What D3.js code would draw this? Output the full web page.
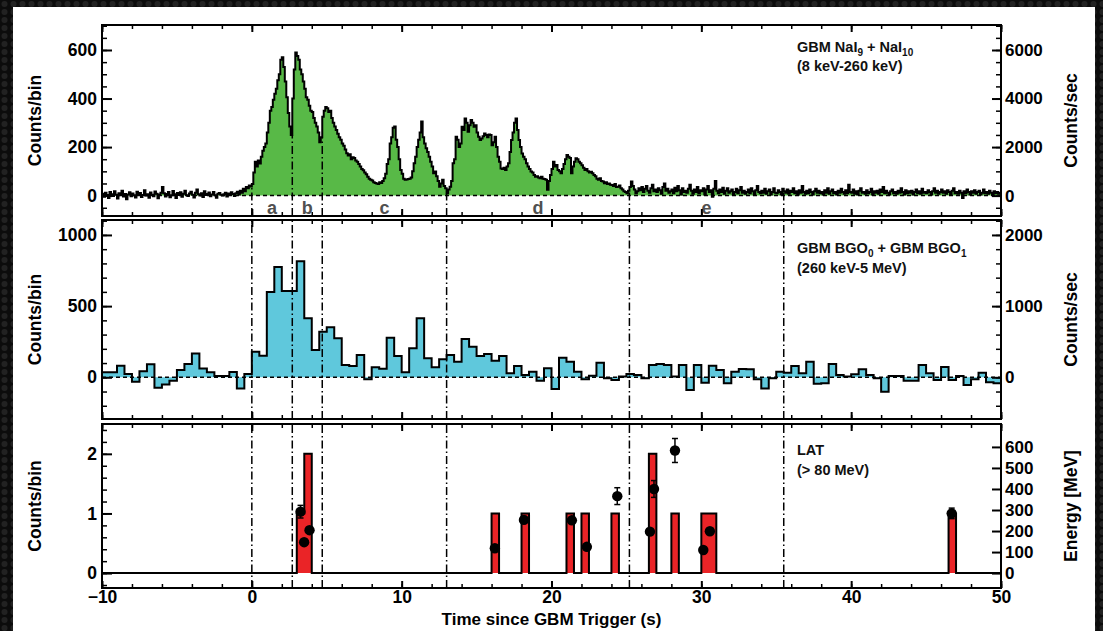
<!DOCTYPE html>
<html><head><meta charset="utf-8">
<script src="https://cdn.jsdelivr.net/npm/d3@7"></script>
<style>
html,body{margin:0;padding:0;background:#121212;}
svg{display:block;}
text{font-family:"Liberation Sans", Arial, Helvetica, sans-serif;font-weight:bold;}
</style></head><body>
<svg id="chart" width="1103" height="631"></svg>
<script>
// ---------------- DATA ----------------
const naiStart = -10, naiBinWidth = 0.1;
const naiCounts = [
 8,-5,12,3,-10,15,6,-2,18,4,
 -12,10,2,20,-4,7,-15,5,14,-3,
 9,1,-8,16,5,11,-6,3,22,0,
 6,-9,13,4,-3,17,8,-11,5,12,
 35,10,-4,7,15,-7,2,19,6,-10,
 11,3,14,-5,8,20,1,-2,9,16,
 4,-8,12,25,6,0,10,-6,18,3,
 7,13,-3,5,15,2,-9,8,11,4,
 0,6,12,-4,9,3,14,7,-2,10,
 16,5,20,12,28,18,35,30,42,38,
 48,95,140,120,145,132,160,185,200,215,
 260,300,350,365,395,420,440,475,500,560,
 570,530,470,405,340,285,250,400,520,590,
 575,560,520,500,470,440,405,395,370,350,
 345,320,300,285,260,220,240,325,350,365,
 360,345,350,320,300,285,270,255,240,230,
 215,205,190,175,165,170,150,158,155,145,
 140,130,120,110,105,95,88,78,70,65,
 62,55,52,50,48,55,52,60,72,90,
 130,150,215,240,280,285,230,200,150,106,
 90,70,65,66,68,70,75,100,133,160,
 200,230,260,305,240,215,195,180,160,140,
 120,92,99,80,60,37,50,65,40,30,
 10,25,37,60,133,150,243,230,200,215,
 284,270,318,300,263,290,312,300,284,290,
 260,243,229,235,245,256,250,240,252,250,
 208,220,243,200,160,140,112,110,115,106,
 120,133,180,229,260,300,318,270,229,200,
 174,160,150,133,120,110,99,95,85,78,
 80,75,72,78,70,68,65,24,60,85,
 110,140,120,126,106,100,92,110,130,150,
 167,160,155,92,120,140,154,150,140,133,
 125,115,106,110,100,95,98,92,85,80,
 70,65,72,60,58,51,55,48,50,45,
 44,40,48,35,37,42,30,25,18,15,
 10,20,35,58,40,25,10,18,30,22,
 35,15,28,40,20,12,30,45,18,25,
 15,30,22,8,35,50,20,28,12,18,
 25,10,32,18,40,22,5,30,15,20,
 12,28,45,20,8,25,15,35,10,22,
 18,30,5,25,40,15,22,-5,28,60,
 20,10,25,15,32,8,20,30,12,18,
 25,5,15,28,10,22,35,12,20,8,
 15,25,10,30,18,5,22,40,15,10,
 20,12,28,8,18,25,5,15,30,12,
 10,22,15,5,28,18,12,25,8,20,
 15,30,10,18,5,22,12,40,15,8,
 20,10,25,15,5,18,28,12,20,10,
 15,5,22,12,30,8,18,25,10,15,
 5,20,12,28,15,8,22,10,45,15,
 12,25,8,18,5,20,30,12,15,8,
 22,10,15,28,5,18,12,20,8,25,
 15,35,10,20,12,5,18,25,10,15,
 8,20,12,30,15,5,22,10,18,12,
 20,5,15,25,10,18,8,28,12,15,
 10,22,15,5,18,30,12,20,8,15,
 25,12,18,8,22,15,5,20,30,10,
 15,8,20,12,-10,18,10,25,15,5,
 18,12,22,8,15,20,5,12,25,10,
 15,8,20,12,5,18,10,15,8,12
];
const bgoStart = -10, bgoBinWidth = 0.5;
const bgoCounts = [
 35,35,81,23,-31,42,91,-73,-50,-24,51,93,168,61,35,9,9,37,-78,23,
 180,152,600,775,607,607,816,414,192,320,351,274,86,79,156,-14,71,60,278,150,
 35,204,414,133,70,126,156,110,269,215,150,164,117,150,28,79,16,39,-24,63,
 -82,138,110,39,-14,11,103,-7,-19,5,23,16,-7,86,93,86,5,86,-89,86,
 -38,81,51,-42,39,58,56,-14,-78,-7,39,32,79,28,110,-45,-42,93,16,5,
 21,56,16,-7,-101,9,9,-24,-24,86,28,-19,72,-19,9,-54,-14,32,-35,-42
];
const latBinWidth = 0.5;
const latBinStarts = [3.0, 3.5, 16.0, 18.0, 21.0, 22.0, 24.0, 26.5, 28.0, 30.0, 30.5, 46.5];
const latCounts    = [1,   2,   1,    1,    1,    1,    1,    2,    1,    1,    1,    1];
const photonTimes    = [3.25, 3.49, 3.85, 16.22, 18.16, 21.36, 22.36, 24.39, 26.57, 26.84, 28.24, 30.13, 30.57, 46.71];
const photonEnergies = [292, 147, 204, 118, 253, 251, 125, 366, 197, 400, 583, 110, 199, 284];
const photonErrors   = [30, 10, 14, 8, 16, 16, 9, 40, 13, 40, 57, 8, 14, 25];
const intervalBounds = [0, 2.7, 4.7, 13.0, 25.2, 35.5];
const intervalLabels = ["a", "b", "c", "d", "e"];
const xTickValues = [-10, 0, 10, 20, 30, 40, 50];

// ---------------- LAYOUT ----------------
const W = 1103, H = 631;
const X0 = 102, X1 = 1001;
const svg = d3.select('#chart');
const defs = svg.append('defs');
const pat = defs.append('pattern').attr('id','hex').attr('width',9).attr('height',8).attr('patternUnits','userSpaceOnUse');
pat.append('rect').attr('width',9).attr('height',8).attr('fill','#0c0c0c');
pat.append('circle').attr('cx',4.5).attr('cy',4).attr('r',3).attr('fill','#222');
svg.append('rect').attr('width',W).attr('height',H).attr('fill','url(#hex)');
svg.append('rect').attr('x',13).attr('y',7).attr('width',1082).attr('height',H-7).attr('fill','#fff');

const x = d3.scaleLinear().domain([-10, 50]).range([X0, X1]);
const xMinor = d3.range(-10, 50.01, 2);

const panels = [
  {top:25, bottom:216, dom:[-84,703], rdom:[-840,7030], lMajor:[0,200,400,600], lMinor:d3.range(-50,701,50),
   rMajor:[0,2000,4000,6000], rMinor:d3.range(-500,7001,500), rTitle:'Counts/sec'},
  {top:220, bottom:419, dom:[-293,1105], rdom:[-586,2210], lMajor:[0,500,1000], lMinor:d3.range(-200,1101,100),
   rMajor:[0,1000,2000], rMinor:d3.range(-400,2201,200), rTitle:'Counts/sec'},
  {top:424, bottom:588, dom:[-0.25,2.5], rdom:[-70.9,709], lMajor:[0,1,2], lMinor:d3.range(-0.2,2.41,0.2),
   rMajor:[0,100,200,300,400,500,600], rMinor:[], rTitle:'Energy [MeV]'}
];
panels.forEach((p,i)=>{
  p.y = d3.scaleLinear().domain(p.dom).range([p.bottom, p.top]);
  p.yr = d3.scaleLinear().domain(p.rdom).range([p.bottom, p.top]);
  defs.append('clipPath').attr('id','clip'+i).append('rect')
    .attr('x',X0).attr('y',p.top).attr('width',X1-X0).attr('height',p.bottom-p.top);
});

function stepPoints(start, w, vals){
  const pts = vals.map((v,i)=>[start+i*w, v]);
  pts.push([start+vals.length*w, vals[vals.length-1]]);
  return pts;
}
const dashDot = '8,3,1.5,3';
const annSize = 14.5, subSize = 10;

// ---------------- PANEL 1 (NaI) ----------------
{
  const p = panels[0];
  const g = svg.append('g').attr('clip-path','url(#clip0)');
  const pts = stepPoints(naiStart, naiBinWidth, naiCounts);
  g.append('path').datum(pts).attr('fill','#58b947')
    .attr('d', d3.area().x(d=>x(d[0])).y0(p.y(0)).y1(d=>p.y(d[1])).curve(d3.curveStepAfter));
  g.append('line').attr('x1',X0).attr('x2',X1).attr('y1',p.y(0)).attr('y2',p.y(0))
    .attr('stroke','#000').attr('stroke-width',1.5).attr('stroke-dasharray','4,3');
  intervalBounds.forEach(t=>{
    const k = Math.floor((t - naiStart)/naiBinWidth + 1e-6);
    const v = Math.max(0, Math.min(naiCounts[k], naiCounts[k-1]));
    g.append('line').attr('x1',x(t)).attr('x2',x(t)).attr('y1',p.bottom).attr('y2',p.y(v))
      .attr('stroke','#000').attr('stroke-width',1.5).attr('stroke-dasharray',dashDot);
  });
  g.append('path').datum(pts).attr('fill','none').attr('stroke','#000').attr('stroke-width',2)
    .attr('d', d3.line().x(d=>x(d[0])).y(d=>p.y(d[1])).curve(d3.curveStepAfter));
  intervalLabels.forEach((lab,i)=>{
    svg.append('text').attr('x', x((intervalBounds[i]+intervalBounds[i+1])/2)).attr('y',214)
      .attr('text-anchor','middle').attr('fill','#505050').attr('font-size',18).text(lab);
  });
  const t = svg.append('text').attr('x',797).attr('y',52).attr('font-size',annSize).attr('fill','#111');
  t.append('tspan').text('GBM NaI');
  t.append('tspan').attr('font-size',subSize).attr('dy',3.5).text('9');
  t.append('tspan').attr('dy',-3.5).text(' + NaI');
  t.append('tspan').attr('font-size',subSize).attr('dy',3.5).text('10');
  svg.append('text').attr('x',797).attr('y',71).attr('font-size',annSize).attr('fill','#111').text('(8 keV-260 keV)');
}

// ---------------- PANEL 2 (BGO) ----------------
{
  const p = panels[1];
  const g = svg.append('g').attr('clip-path','url(#clip1)');
  const pts = stepPoints(bgoStart, bgoBinWidth, bgoCounts);
  g.append('path').datum(pts).attr('fill','#5fc8dc')
    .attr('d', d3.area().x(d=>x(d[0])).y0(p.y(0)).y1(d=>p.y(d[1])).curve(d3.curveStepAfter));
  g.append('line').attr('x1',X0).attr('x2',X1).attr('y1',p.y(0)).attr('y2',p.y(0))
    .attr('stroke','#000').attr('stroke-width',1.5).attr('stroke-dasharray','4,3');
  intervalBounds.forEach(t=>{
    g.append('line').attr('x1',x(t)).attr('x2',x(t)).attr('y1',p.bottom).attr('y2',p.top)
      .attr('stroke','#000').attr('stroke-width',1.5).attr('stroke-dasharray',dashDot);
  });
  g.append('path').datum(pts).attr('fill','none').attr('stroke','#000').attr('stroke-width',2)
    .attr('d', d3.line().x(d=>x(d[0])).y(d=>p.y(d[1])).curve(d3.curveStepAfter));
  const t = svg.append('text').attr('x',797).attr('y',253).attr('font-size',annSize).attr('fill','#111');
  t.append('tspan').text('GBM BGO');
  t.append('tspan').attr('font-size',subSize).attr('dy',4).text('0');
  t.append('tspan').attr('dy',-4).text(' + GBM BGO');
  t.append('tspan').attr('font-size',subSize).attr('dy',4).text('1');
  svg.append('text').attr('x',797).attr('y',273).attr('font-size',annSize).attr('fill','#111').text('(260 keV-5 MeV)');
}

// ---------------- PANEL 3 (LAT) ----------------
{
  const p = panels[2];
  const g = svg.append('g').attr('clip-path','url(#clip2)');
  const nb = Math.round(60/latBinWidth);
  const hist = new Array(nb).fill(0);
  latBinStarts.forEach((s,i)=>{ hist[Math.round((s+10)/latBinWidth)] = latCounts[i]; });
  const pts = stepPoints(-10, latBinWidth, hist);
  intervalBounds.forEach(t=>{
    g.append('line').attr('x1',x(t)).attr('x2',x(t)).attr('y1',p.bottom).attr('y2',p.top)
      .attr('stroke','#000').attr('stroke-width',1.5).attr('stroke-dasharray',dashDot);
  });
  g.append('path').datum(pts).attr('fill','#ea2427')
    .attr('d', d3.area().x(d=>x(d[0])).y0(p.y(0)).y1(d=>p.y(d[1])).curve(d3.curveStepAfter));
  g.append('path').datum(pts).attr('fill','none').attr('stroke','#000').attr('stroke-width',2)
    .attr('d', d3.line().x(d=>x(d[0])).y(d=>p.y(d[1])).curve(d3.curveStepAfter));
  photonTimes.forEach((tm,i)=>{
    const cx = x(tm), e = photonEnergies[i], er = photonErrors[i];
    const y1 = p.yr(e+er), y2 = p.yr(e-er);
    g.append('line').attr('x1',cx).attr('x2',cx).attr('y1',y1).attr('y2',y2).attr('stroke','#000').attr('stroke-width',1.5);
    [y1,y2].forEach(yy=>g.append('line').attr('x1',cx-3).attr('x2',cx+3).attr('y1',yy).attr('y2',yy).attr('stroke','#000').attr('stroke-width',1.5));
    g.append('circle').attr('cx',cx).attr('cy',p.yr(e)).attr('r',5.2).attr('fill','#000');
  });
  svg.append('text').attr('x',797).attr('y',455).attr('font-size',annSize).attr('fill','#111').text('LAT');
  svg.append('text').attr('x',797).attr('y',475).attr('font-size',annSize).attr('fill','#111').text('(> 80 MeV)');
}

// ---------------- AXES & FRAMES ----------------
function styleAxis(sel, fs, sw){
  sel.select('.domain').remove();
  sel.selectAll('line').attr('stroke','#000').attr('stroke-width',sw);
  sel.selectAll('text').attr('font-size',fs).attr('fill','#000').attr('font-family','"Liberation Sans", Arial, sans-serif').attr('font-weight','bold');
}
panels.forEach((p,i)=>{
  svg.append('g').attr('transform',`translate(0,${p.top})`)
    .call(d3.axisTop(x).tickValues(xTickValues).tickSize(-7).tickFormat('')).call(s=>styleAxis(s,17,2));
  svg.append('g').attr('transform',`translate(0,${p.top})`)
    .call(d3.axisTop(x).tickValues(xMinor).tickSize(-4).tickFormat('')).call(s=>styleAxis(s,17,1.5));
  svg.append('g').attr('transform',`translate(0,${p.bottom})`)
    .call(d3.axisBottom(x).tickValues(xTickValues).tickSize(-7).tickPadding(3)
      .tickFormat(i===2 ? d3.format('d') : '')).call(s=>styleAxis(s,17.5,2));
  svg.append('g').attr('transform',`translate(0,${p.bottom})`)
    .call(d3.axisBottom(x).tickValues(xMinor).tickSize(-4).tickFormat('')).call(s=>styleAxis(s,17,1.5));
  svg.append('g').attr('transform',`translate(${X0},0)`)
    .call(d3.axisLeft(p.y).tickValues(p.lMajor).tickSize(-10).tickPadding(5).tickFormat(d3.format('d'))).call(s=>styleAxis(s,17.5,2));
  svg.append('g').attr('transform',`translate(${X0},0)`)
    .call(d3.axisLeft(p.y).tickValues(p.lMinor).tickSize(-5).tickFormat('')).call(s=>styleAxis(s,17,1.5));
  svg.append('g').attr('transform',`translate(${X1},0)`)
    .call(d3.axisRight(p.yr).tickValues(p.rMajor).tickSize(-9).tickPadding(4).tickFormat(d3.format('d'))).call(s=>styleAxis(s,17,2));
  if (p.rMinor.length)
    svg.append('g').attr('transform',`translate(${X1},0)`)
      .call(d3.axisRight(p.yr).tickValues(p.rMinor).tickSize(-5).tickFormat('')).call(s=>styleAxis(s,17,1.5));
  svg.append('rect').attr('x',X0).attr('y',p.top).attr('width',X1-X0).attr('height',p.bottom-p.top)
    .attr('fill','none').attr('stroke','#000').attr('stroke-width',2);
  const cy = (p.top+p.bottom)/2;
  svg.append('text').attr('transform',`translate(41,${cy}) rotate(-90)`).attr('text-anchor','middle')
    .attr('font-size',17.5).attr('fill','#000').text('Counts/bin');
  svg.append('text').attr('transform',`translate(1077,${cy}) rotate(-90)`).attr('text-anchor','middle')
    .attr('font-size',17.5).attr('fill','#000').text(p.rTitle);
});
svg.append('text').attr('x',(X0+X1)/2).attr('y',625).attr('text-anchor','middle')
  .attr('font-size',17).attr('fill','#000').text('Time since GBM Trigger (s)');
</script>
</body></html>
